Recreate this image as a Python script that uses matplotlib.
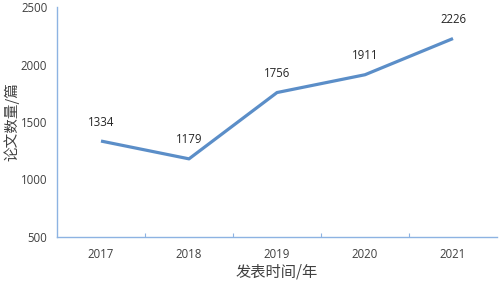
import matplotlib.pyplot as plt
import numpy as np

plt.rcParams['font.family'] = ['Open Sans', 'Noto Sans CJK SC', 'DejaVu Sans']

years = ['2017', '2018', '2019', '2020', '2021']
papers = [1334, 1179, 1756, 1911, 2226]

line_color = '#5b8ec8'
spine_color = '#8db3e2'
text_color = '#404040'

fig = plt.figure(figsize=(5, 2.82), dpi=100)
ax = fig.add_axes([0.114, 0.16, 0.88, 0.815])

x = np.arange(len(years))
ax.plot(x, papers, color=line_color, linewidth=2.3, solid_capstyle='butt')

for xi, v in zip(x, papers):
    ax.annotate(str(v), (xi, v), xytext=(0, 9), textcoords='offset points',
                ha='center', va='bottom', fontsize=8.3, color='#262626')

ax.set_xlim(-0.5, len(years) - 0.5)
ax.set_ylim(500, 2500)
ax.set_yticks([500, 1000, 1500, 2000, 2500])

# category labels centred, tick marks between categories
ax.set_xticks(x)
ax.set_xticklabels(years)
ax.set_xticks(np.arange(0.5, len(years) - 0.5, 1), minor=True)
ax.tick_params(axis='x', which='major', length=0, pad=8, labelsize=8.3, labelcolor=text_color)
ax.tick_params(axis='x', which='minor', direction='in', length=3, color=spine_color, width=0.8)
ax.tick_params(axis='y', length=0, pad=7, labelsize=8.3, labelcolor=text_color)

for s in ['top', 'right']:
    ax.spines[s].set_visible(False)
for s in ['left', 'bottom']:
    ax.spines[s].set_color(spine_color)
    ax.spines[s].set_linewidth(1.0)

ax.set_xlabel('发表时间/年', fontsize=11, color=text_color, labelpad=2,
              family=['Noto Sans CJK SC', 'DejaVu Sans'])
ax.set_ylabel('论文数量/篇', fontsize=10.5, color=text_color, labelpad=1,
              family=['Noto Sans CJK SC', 'DejaVu Sans'])

fig.savefig('out.png', dpi=100)
